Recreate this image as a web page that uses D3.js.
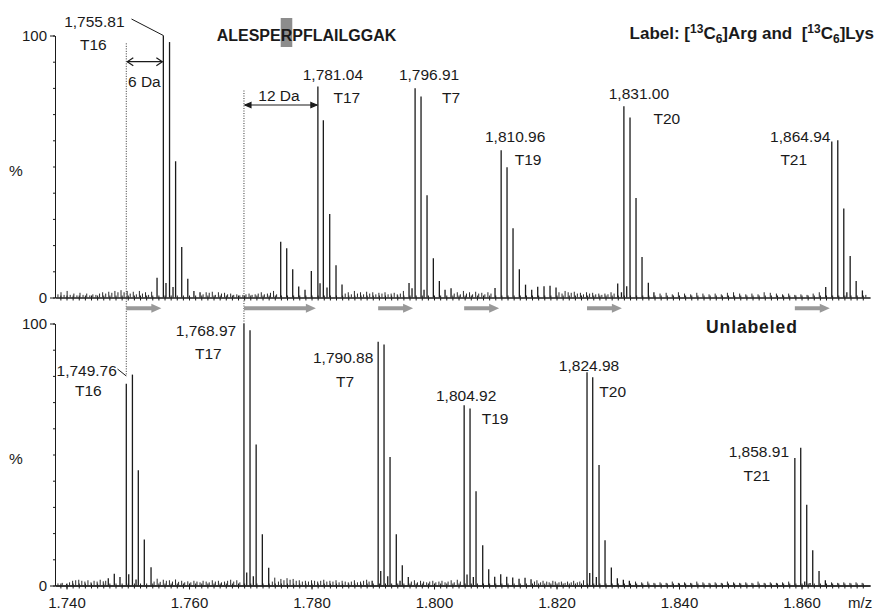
<!DOCTYPE html>
<html>
<head>
<meta charset="utf-8">
<script src="https://cdn.jsdelivr.net/npm/d3@7"></script>
<style>
  body { margin: 0; background: #fff; }
  svg text { font-family: "Liberation Sans", Arial, Helvetica, sans-serif; fill: #1a1a1a; }
</style>
</head>
<body>
<svg width="875" height="610"></svg>
<script>
// labeled sample, isotope clusters: [m/z, % intensity]
const labeledPeaks = [
  [1754.78, 7.5], [1755.81, 100], [1756.24, 5.5], [1756.82, 97.5], [1757.39, 4], [1757.81, 52], [1758.81, 19.3], [1759.80, 7.2], [1760.8, 2.5], [1761.8, 2],
  [1774.97, 21.3], [1775.95, 18.8], [1776.93, 10.8], [1777.91, 4.2], [1778.94, 3], [1779.97, 10.1], [1781.04, 80.5], [1781.39, 5.4], [1781.93, 67.7], [1782.53, 3.8], [1782.97, 31.9], [1784.00, 12.3], [1784.98, 5],
  [1795.92, 5.5], [1796.41, 3.5], [1796.91, 79.9], [1797.88, 76.7], [1798.37, 3], [1798.86, 39], [1799.89, 15], [1800.87, 6.3], [1801.80, 3], [1802.78, 3.5],
  [1809.96, 3.6], [1810.96, 56.2], [1811.92, 49.7], [1812.90, 26.4], [1813.93, 10.8], [1814.94, 4.9], [1815.95, 3], [1816.93, 4.1], [1817.96, 4.3], [1818.94, 4.5], [1819.92, 3.8],
  [1829.99, 5.3], [1830.60, 2], [1831.00, 73], [1831.46, 4.3], [1832.00, 68.7], [1832.98, 38], [1833.96, 15.5], [1834.99, 5.6], [1835.90, 2],
  [1863.95, 4], [1864.94, 59.5], [1865.92, 60], [1866.90, 34], [1867.40, 2], [1867.94, 15.8], [1868.92, 6.3], [1869.94, 2.7]
];

// labeled sample, baseline noise
const labeledNoise = [
  [1738.6, 1.2], [1739.1, 2], [1739.6, 1], [1740.1, 2.5], [1740.6, 1], [1741.2, 1.5], [1741.7, 0.8], [1742.2, 1.8], [1742.7, 1], [1743.3, 1.5],
  [1743.8, 0.8], [1744.3, 1.2], [1744.8, 1], [1745.4, 1.5], [1745.9, 2], [1746.4, 1.5], [1746.9, 2.2], [1747.4, 1.8], [1747.9, 2.5], [1748.4, 2],
  [1748.9, 2.8], [1749.4, 2], [1749.9, 2.5], [1750.4, 1.5], [1750.9, 2.2], [1751.4, 1.2], [1751.9, 2.5], [1752.4, 1.5], [1752.9, 2], [1753.4, 1], [1753.9, 2.2],
  [1762.3, 1.2], [1762.8, 2], [1763.3, 1.8], [1763.8, 2.2], [1764.3, 1], [1764.8, 2], [1765.3, 1.5], [1765.8, 1.8], [1766.3, 1.2], [1766.8, 1.5],
  [1767.3, 1], [1767.8, 1.2], [1768.3, 0.8], [1768.8, 1], [1769.3, 1.2], [1769.8, 1.5], [1770.3, 1], [1770.8, 1.2], [1771.3, 1.5], [1771.8, 2],
  [1772.3, 1.2], [1772.8, 1.5], [1773.3, 1.8], [1773.8, 2.5], [1774.3, 1.2],
  [1785.5, 1.5], [1786.0, 2], [1786.5, 1.2], [1787.0, 2.5], [1787.5, 1.5], [1788.0, 2], [1788.5, 1.2], [1789.0, 2.2], [1789.5, 1.5], [1790.0, 2],
  [1790.5, 1.2], [1791.0, 1.8], [1791.5, 1.5], [1792.0, 2], [1792.5, 1.2], [1793.0, 1.5], [1793.5, 1.8], [1794.0, 1.2], [1794.5, 1.5], [1795.0, 2.5],
  [1803.3, 1.5], [1803.8, 2], [1804.3, 1.2], [1804.8, 2.5], [1805.3, 1.5], [1805.8, 2], [1806.3, 1.2], [1806.8, 2.2], [1807.3, 1.5], [1807.8, 1.8],
  [1808.3, 1.2], [1808.8, 2], [1809.3, 1.5],
  [1820.4, 2], [1820.9, 1.5], [1821.4, 2.5], [1821.9, 2], [1822.4, 1.8], [1822.9, 2.2], [1823.4, 1.5], [1823.9, 1.8], [1824.4, 1.2], [1824.9, 2],
  [1825.4, 1.5], [1825.9, 1.8], [1826.4, 1.2], [1826.9, 1.5], [1827.4, 1], [1827.9, 1.5], [1828.4, 1.2], [1828.9, 2], [1829.4, 1.5],
  [1836.9, 1.5], [1837.9, 1.8], [1838.9, 1.2], [1839.9, 2], [1840.9, 1.5], [1841.9, 1.2], [1842.9, 1.8], [1843.9, 1.5], [1844.9, 1.2], [1845.9, 1.5],
  [1846.9, 1.2], [1847.9, 1.8], [1848.9, 2], [1849.9, 1.5], [1850.9, 1.2], [1851.9, 1.5], [1852.9, 1.2], [1853.9, 2], [1854.9, 1.8], [1855.9, 1.5],
  [1856.9, 1.2], [1857.9, 1.5], [1858.9, 1], [1859.9, 1.2], [1860.9, 1], [1861.9, 1.5], [1862.9, 2], [1870.5, 1]
];

// unlabeled sample, isotope clusters
const unlabeledPeaks = [
  [1746.82, 2.8], [1747.80, 4.5], [1748.73, 3.2], [1749.76, 77], [1750.16, 4.3], [1750.76, 80.5], [1751.35, 2.3], [1751.72, 44], [1752.70, 17.6], [1753.80, 7],
  [1768.97, 100], [1769.42, 5], [1769.96, 97.4], [1770.50, 3.5], [1770.96, 53.8], [1771.97, 19.6], [1773.01, 6.8],
  [1789.90, 1.8], [1790.88, 93], [1791.30, 5.5], [1791.84, 92], [1792.44, 3.5], [1792.82, 49], [1793.84, 19.6], [1794.45, 1.8], [1794.82, 7.7], [1795.80, 3.2],
  [1804.92, 68.8], [1805.39, 4.2], [1805.88, 67.6], [1806.42, 3.2], [1806.86, 36], [1807.95, 15.4], [1808.93, 6.2], [1809.91, 3.3], [1810.89, 4.3],
  [1811.87, 3.3], [1812.85, 3.1], [1813.88, 2.6], [1814.86, 3], [1815.84, 2.4],
  [1824.98, 81.4], [1825.42, 4.8], [1825.91, 79.5], [1826.50, 3.2], [1826.94, 46], [1827.92, 17.3], [1828.95, 6.9], [1829.93, 2.8], [1830.91, 2.2], [1831.89, 1.8],
  [1858.91, 48.7], [1859.87, 52.6], [1860.52, 1.5], [1860.85, 30.8], [1861.39, 1], [1861.83, 13.5], [1862.86, 5.5], [1863.89, 2]
];

// unlabeled sample, baseline noise
const unlabeledNoise = [
  [1738.6, 0.8], [1739.3, 1], [1740.0, 0.6], [1740.5, 1.2], [1741.0, 1.8], [1741.5, 2], [1742.0, 2.2], [1742.5, 1.8], [1743.0, 1.5], [1743.5, 2],
  [1744.0, 1.2], [1744.5, 1.8], [1745.0, 1.5], [1745.5, 2.2], [1746.0, 1.6], [1746.4, 1.8],
  [1754.3, 1.5], [1754.8, 2.6], [1755.3, 1.4], [1755.8, 2.2], [1756.3, 1.8], [1756.8, 2], [1757.3, 1.5], [1757.8, 2.3], [1758.3, 1.4], [1758.8, 1.8],
  [1759.3, 1.2], [1759.8, 1.6], [1760.3, 1.2], [1760.8, 1.8], [1761.3, 1.5], [1761.8, 1.2], [1762.3, 1.8], [1762.8, 1.5], [1763.3, 1.2], [1763.8, 2],
  [1764.3, 1.5], [1764.8, 1.8], [1765.3, 1.2], [1765.8, 1.5], [1766.3, 1.8], [1766.8, 2.2], [1767.3, 1.5], [1767.8, 2], [1768.3, 1.2],
  [1773.6, 1.5], [1774.0, 3], [1774.6, 1.5], [1775.0, 2.5], [1775.5, 2], [1776.0, 2.8], [1776.5, 2.2], [1777.0, 2.5], [1777.5, 1.8], [1778.0, 2],
  [1778.5, 1.5], [1779.0, 1.8], [1779.5, 1.5], [1780.0, 2], [1780.5, 1.8], [1781.0, 1.5], [1781.5, 1.8], [1782.0, 2.2], [1782.5, 1.5], [1783.0, 1.8],
  [1783.5, 1.5], [1784.0, 2], [1784.5, 1.2], [1785.0, 1.8], [1785.5, 1.5], [1786.0, 1.2], [1786.5, 1.5], [1787.0, 2], [1787.5, 1.2], [1788.0, 1.5],
  [1788.5, 1.8], [1789.0, 2.2], [1789.4, 1.5],
  [1796.3, 1.5], [1796.8, 2], [1797.3, 1.2], [1797.8, 1.8], [1798.3, 1.5], [1798.8, 1.2], [1799.3, 1.5], [1799.8, 1.8], [1800.3, 1.2], [1800.8, 1.5],
  [1801.3, 1.8], [1801.8, 1.2], [1802.3, 1.5], [1802.8, 2], [1803.3, 1.2], [1803.8, 2.2], [1804.3, 1.5],
  [1816.4, 1.5], [1816.8, 2], [1817.4, 1.2], [1817.8, 1.8], [1818.4, 1.5], [1818.8, 1.2], [1819.4, 1.8], [1819.8, 1.5], [1820.4, 1.2], [1820.8, 1.5],
  [1821.4, 1], [1821.8, 1.5], [1822.4, 1.2], [1822.8, 1.8], [1823.4, 1.2], [1823.8, 1.5], [1824.4, 2],
  [1832.9, 1.5], [1833.9, 1.2], [1834.9, 1.5], [1835.9, 1], [1836.9, 1.2], [1837.9, 1], [1838.9, 1.5], [1839.9, 1], [1840.9, 1.2], [1841.9, 1],
  [1842.9, 1.5], [1843.9, 1.2], [1844.9, 1], [1845.9, 1.2], [1846.9, 1], [1847.9, 1.5], [1848.9, 1.2], [1849.9, 1], [1850.9, 1.2], [1851.9, 1],
  [1852.9, 1.5], [1853.9, 1], [1854.9, 1.2], [1855.9, 1], [1856.9, 1.2], [1857.9, 1.5],
  [1864.9, 1.2], [1865.9, 1], [1866.9, 1.2], [1867.9, 1], [1868.9, 1.2], [1869.9, 1]
];

const peptides = ["T16", "T17", "T7", "T19", "T20", "T21"];
const labeledMz = [1755.81, 1781.04, 1796.91, 1810.96, 1831.00, 1864.94];
const unlabeledMz = [1749.76, 1768.97, 1790.88, 1804.92, 1824.98, 1858.91];
const xTickValues = [1740, 1760, 1780, 1800, 1820, 1840, 1860];
const yTickValues = [0, 100];

// label placement: [dx of number, number baseline, dx of name, name baseline]
const topLabelPos = [[-69, 27, -70, 50], [15, 80, 29, 103], [14, 80, 36, 103], [14, 142, 27, 165], [15, 99, 43, 124], [-31.5, 141.5, -38, 165]];
const bottomLabelPos = [[-39.6, 375.5, -38, 395.5], [-38, 336, -35.6, 359], [-35, 363, -33, 387], [2, 400.5, 31, 424], [2, 371, 25.7, 396.5], [-36, 457, -38, 480.5]];

const svg = d3.select("svg");
const font = '"Liberation Sans", Arial, Helvetica, sans-serif';
const ink = "#1a1a1a";

const x = d3.scaleLinear().domain([1738.12, 1871.18]).range([55, 870]);
const yTop = d3.scaleLinear().domain([0, 100]).range([297.5, 35.5]);
const yBottom = d3.scaleLinear().domain([0, 100]).range([585.5, 323.5]);
const fmt = d3.format(",.2f");

function styleAxis(g) {
  g.attr("font-family", font).attr("font-size", 15);
  g.selectAll("path, line").attr("stroke", ink);
  g.selectAll("text").attr("fill", ink);
}

function drawPanel(y, peaks, noise, showTickLabels) {
  const g = svg.append("g");
  const minor = d3.range(1739, 1871);

  g.append("g")
    .attr("transform", `translate(0,${y(0)})`)
    .call(d3.axisBottom(x).tickValues(minor).tickSize(3).tickSizeOuter(0).tickFormat(""))
    .call(styleAxis);
  g.append("g")
    .attr("transform", `translate(0,${y(0)})`)
    .call(d3.axisTop(x).tickValues(minor).tickSize(2).tickSizeOuter(0).tickFormat(""))
    .call(styleAxis);

  if (showTickLabels) {
    g.append("g")
      .attr("transform", `translate(0,${y(0)})`)
      .call(d3.axisBottom(x).tickValues(xTickValues).tickSize(4).tickSizeOuter(0).tickPadding(7.5)
        .tickFormat(d => (d / 1000).toFixed(3)))
      .call(styleAxis);
  }

  g.append("g")
    .attr("transform", "translate(55,0)")
    .call(d3.axisLeft(y).tickValues(d3.range(0, 101, 10)).tickSize(2).tickSizeOuter(0).tickFormat(""))
    .call(styleAxis);
  g.append("g")
    .attr("transform", "translate(55,0)")
    .call(d3.axisLeft(y).tickValues(yTickValues).tickSize(5).tickSizeOuter(0).tickPadding(3))
    .call(styleAxis);

  g.append("text")
    .attr("x", 16).attr("y", (y(0) + y(100)) / 2 + 9)
    .attr("text-anchor", "middle").attr("font-size", 15.5)
    .text("%");

  g.append("g").selectAll("line").data(noise).join("line")
    .attr("x1", d => x(d[0])).attr("x2", d => x(d[0]))
    .attr("y1", y(0)).attr("y2", d => y(d[1]))
    .attr("stroke", "#2a2a2a").attr("stroke-width", 1);

  g.append("g").selectAll("line").data(peaks).join("line")
    .attr("x1", d => x(d[0])).attr("x2", d => x(d[0]))
    .attr("y1", y(0)).attr("y2", d => y(d[1]))
    .attr("stroke", ink).attr("stroke-width", 1.3);
  return g;
}

function drawLabels(mzs, pos) {
  const g = svg.append("g").attr("font-size", 15.5).attr("text-anchor", "middle");
  mzs.forEach((mz, i) => {
    const p = pos[i];
    g.append("text").attr("x", x(mz) + p[0]).attr("y", p[1]).text(fmt(mz));
    g.append("text").attr("x", x(mz) + p[2]).attr("y", p[3]).text(peptides[i]);
  });
}

// dotted guides (drawn first so peaks sit on top)
const guides = svg.append("g");
guides.append("line")
  .attr("x1", x(unlabeledMz[0])).attr("x2", x(unlabeledMz[0]))
  .attr("y1", yTop(97)).attr("y2", 376)
  .attr("stroke", "#333").attr("stroke-width", 1).attr("stroke-dasharray", "1,1.5");
guides.append("line")
  .attr("x1", x(unlabeledMz[1])).attr("x2", x(unlabeledMz[1]))
  .attr("y1", yTop(79)).attr("y2", yBottom(100))
  .attr("stroke", "#333").attr("stroke-width", 1).attr("stroke-dasharray", "1,1.5");

drawPanel(yTop, labeledPeaks, labeledNoise, false);
drawPanel(yBottom, unlabeledPeaks, unlabeledNoise, true);
drawLabels(labeledMz, topLabelPos);
drawLabels(unlabeledMz, bottomLabelPos);

// leader lines for the T16 labels
svg.append("line")
  .attr("x1", 131.5).attr("y1", 19).attr("x2", x(labeledMz[0])).attr("y2", yTop(100))
  .attr("stroke", ink).attr("stroke-width", 1);
svg.append("line")
  .attr("x1", 117.5).attr("y1", 369).attr("x2", x(unlabeledMz[0])).attr("y2", 376)
  .attr("stroke", ink).attr("stroke-width", 1);

// mass-shift arrows
function doubleArrow(x1, x2, yy, filled) {
  const g = svg.append("g").attr("stroke", ink).attr("stroke-width", 1.2).attr("fill", filled ? ink : "none");
  g.append("line").attr("x1", x1 + 1).attr("x2", x2 - 1).attr("y1", yy).attr("y2", yy);
  const h = 6, w = filled ? 2.5 : 4;
  g.append("path").attr("d", `M${x1 + 1 + h},${yy - w} L${x1 + 1},${yy} L${x1 + 1 + h},${yy + w}` + (filled ? "Z" : ""));
  g.append("path").attr("d", `M${x2 - 1 - h},${yy - w} L${x2 - 1},${yy} L${x2 - 1 - h},${yy + w}` + (filled ? "Z" : ""));
}
doubleArrow(x(unlabeledMz[0]), x(labeledMz[0]), yTop(90), false);
doubleArrow(x(unlabeledMz[1]), x(labeledMz[1]), 105, true);
svg.append("text").attr("x", 128).attr("y", 87).attr("font-size", 15.5).text("6 Da");
svg.append("text").attr("x", 279).attr("y", 100.5).attr("font-size", 15.5).attr("text-anchor", "middle").text("12 Da");

// grey shift arrows between panels
const shiftG = svg.append("g").attr("fill", "#999");
unlabeledMz.forEach((mz, i) => {
  const a = x(mz), b = x(labeledMz[i]) - 2, yy = 308.3;
  shiftG.append("path")
    .attr("d", `M${a},${yy - 2} L${b - 10},${yy - 2} L${b - 10},${yy - 4.5} L${b},${yy} L${b - 10},${yy + 4.5} L${b - 10},${yy + 2} L${a},${yy + 2} Z`);
});

// peptide sequence with highlighted residue
const seq = svg.append("text").attr("x", 216.7).attr("y", 40.7)
  .attr("font-size", 16).attr("font-weight", "bold");
seq.append("tspan").text("ALESPE");
seq.append("tspan").text("R");
seq.append("tspan").text("PFLAILGGAK");
const seqNode = seq.node();
const rStart = seqNode.getSubStringLength(0, 6);
const rWidth = seqNode.getSubStringLength(6, 1);
svg.insert("rect", () => seqNode)
  .attr("x", 216.7 + rStart).attr("y", 18).attr("width", rWidth).attr("height", 29)
  .attr("fill", "#8c8c8c");

// label description
const lab = svg.append("text").attr("x", 874).attr("y", 39)
  .attr("font-size", 17).attr("font-weight", "bold").attr("text-anchor", "end")
  .style("white-space", "pre");
lab.append("tspan").text("Label: [");
lab.append("tspan").attr("font-size", 12).attr("dy", -6).text("13");
lab.append("tspan").attr("dy", 6).text("C");
lab.append("tspan").attr("font-size", 12).attr("dy", 4).text("6");
lab.append("tspan").attr("dy", -4).text("]Arg and  [");
lab.append("tspan").attr("font-size", 12).attr("dy", -6).text("13");
lab.append("tspan").attr("dy", 6).text("C");
lab.append("tspan").attr("font-size", 12).attr("dy", 4).text("6");
lab.append("tspan").attr("dy", -4).text("]Lys");

svg.append("text").attr("x", 706).attr("y", 333)
  .attr("font-size", 17.5).attr("font-weight", "bold").attr("letter-spacing", 0.9)
  .text("Unlabeled");

svg.append("text").attr("x", 848).attr("y", 608).attr("font-size", 15).text("m/z");
</script>
</body>
</html>
